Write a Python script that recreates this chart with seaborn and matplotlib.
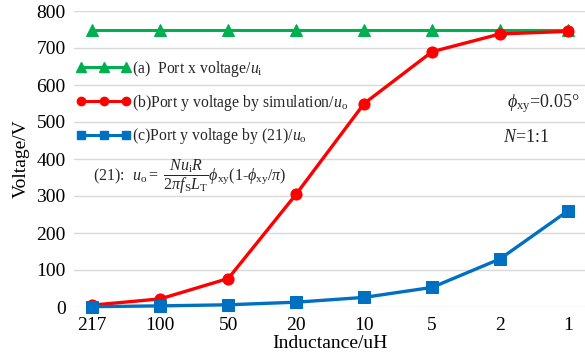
import matplotlib
matplotlib.use("Agg")
import matplotlib.pyplot as plt
import seaborn as sns
import pandas as pd
from matplotlib.lines import Line2D

categories = ["217", "100", "50", "20", "10", "5", "2", "1"]
port_x = [750, 750, 750, 750, 750, 750, 750, 750]
port_y_sim = [5, 22, 77, 305, 550, 690, 738, 745]
port_y_eq = [1, 3, 6, 13, 26, 53, 130, 260]
yticks = [0, 100, 200, 300, 400, 500, 600, 700, 800]

sns.set_theme(style="whitegrid")
plt.rcParams["font.family"] = ["Liberation Serif", "DejaVu Serif"]
plt.rcParams["mathtext.fontset"] = "custom"
plt.rcParams["mathtext.rm"] = "Liberation Serif"
plt.rcParams["mathtext.it"] = "Liberation Serif:italic"
plt.rcParams["mathtext.bf"] = "Liberation Serif:bold"

fig = plt.figure(figsize=(5.85, 3.59), dpi=100)
ax = fig.add_axes([74/585, 52/359, 511/585, 296/359])
ax.set_facecolor("white")

df = pd.DataFrame({"L": categories, "x": port_x, "sim": port_y_sim, "eq": port_y_eq})
green, red, blue = "#00B050", "#FF0000", "#0070C0"

sns.lineplot(data=df, x="L", y="x", ax=ax, color=green, marker="^", markersize=8,
             markeredgecolor=green, linewidth=2.2, sort=False, clip_on=False)
sns.lineplot(data=df, x="L", y="sim", ax=ax, color=red, marker="o", markersize=8,
             markeredgecolor=red, linewidth=2.4, sort=False, clip_on=False)
sns.lineplot(data=df, x="L", y="eq", ax=ax, color=blue, marker="s", markersize=8,
             markeredgecolor=blue, linewidth=2.4, sort=False, clip_on=False)

ax.set_xlim(-0.27, 7.25)
ax.set_ylim(0, 800)
ax.set_yticks(yticks)
ax.grid(axis="y", color="#D9D9D9", linewidth=1)
ax.grid(axis="x", visible=False)
for s in ax.spines.values():
    s.set_visible(False)
ax.tick_params(axis="both", length=0, labelsize=14, colors="black")
ax.tick_params(axis="y", pad=6)
ax.tick_params(axis="x", pad=7)
ax.set_xlabel("Inductance/uH", fontsize=14, color="black", labelpad=1)
ax.set_ylabel("Voltage/V", fontsize=14, color="black", labelpad=5)

handles = [
    Line2D([], [], color=green, marker="^", markersize=7, linewidth=2.2),
    Line2D([], [], color=red, marker="o", markersize=6, linewidth=2.2),
    Line2D([], [], color=blue, marker="s", markersize=6, linewidth=2.2),
]
labels = [
    r"(a)  Port x voltage/$u_\mathrm{i}$",
    r"(b)Port y voltage by simulation/$u_\mathrm{o}$",
    r"(c)Port y voltage by (21)/$u_\mathrm{o}$",
]
leg = ax.legend(handles, labels, loc="upper left", bbox_to_anchor=(-0.008, 0.86),
                numpoints=3, handlelength=3.5, handletextpad=0.05, labelspacing=0.88,
                frameon=False, fontsize=11.3, borderaxespad=0)

ax.text(0.99, 551, r"$\phi_\mathrm{xy}$=0.05°", transform=ax.get_yaxis_transform(),
        ha="right", va="center", fontsize=13)
ax.text(0.885, 459, r"$N$=1:1", transform=ax.get_yaxis_transform(),
        ha="center", va="center", fontsize=13)
ax.text(0.038, 352,
        r"(21):  $u_\mathrm{o}=\ \dfrac{N u_\mathrm{i} R}{2\pi f_\mathrm{S} L_\mathrm{T}}\phi_\mathrm{xy}(1$-$\phi_\mathrm{xy}/\pi)$",
        transform=ax.get_yaxis_transform(), ha="left", va="center", fontsize=11.5)

fig.savefig("out.png", dpi=100)
